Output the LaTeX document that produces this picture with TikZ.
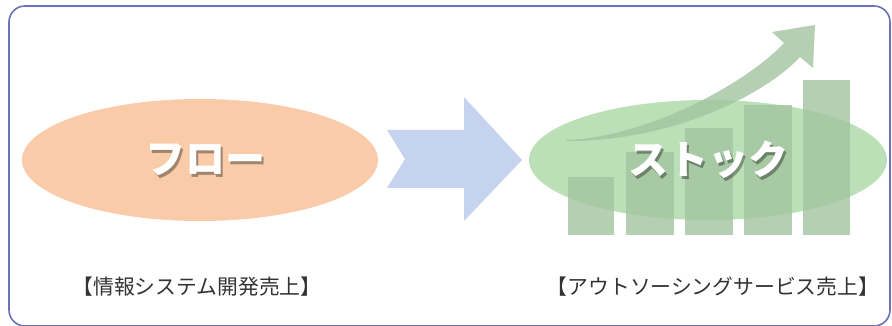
\documentclass[tikz,border=0pt]{standalone}
\usepackage{fontspec}
\newfontfamily\jp{Noto Sans CJK JP}
\usetikzlibrary{shapes.geometric}
\definecolor{frameC}{HTML}{6A72B8}
\definecolor{orangeC}{HTML}{F9CBA8}
\definecolor{blueC}{HTML}{C5D3EE}
\definecolor{greenC}{HTML}{BBE0B7}
\definecolor{barC}{HTML}{A3C5A0}
\definecolor{labelC}{HTML}{333333}
\tikzset{
  blob/.style={ellipse, draw=none, inner sep=0pt},
  bar/.style={fill=barC, fill opacity=0.82, draw=none},
  bigtext/.style={text=white, font=\jp\bfseries\fontsize{40}{42}\selectfont, inner sep=0pt},
  shadowtext/.style={text=black, text opacity=0.35, font=\jp\bfseries\fontsize{40}{42}\selectfont, inner sep=0pt},
  label/.style={text=labelC, font=\jp\fontsize{20.8}{22}\selectfont, inner sep=0pt}
}
\begin{document}
\begin{tikzpicture}[x=1pt,y=-1pt]
\useasboundingbox (0,0) rectangle (892,326);
\begin{scope}
\clip (0,0) rectangle (892,326);
\draw[frameC, line width=1.6pt, rounded corners=16pt] (9,6) rectangle (890,326);
\end{scope}
% flow ellipse
\node[blob, fill=orangeC, minimum width=356pt, minimum height=122pt] (flow) at (200,160) {};
% big arrow
\fill[blueC] (387,130) -- (464,130) -- (464,97) -- (522,160) -- (464,221) -- (464,188) -- (387,188) -- (405,159) -- cycle;
% stock ellipse
\node[blob, fill=greenC, minimum width=358pt, minimum height=120pt] (stock) at (708,160) {};
% bars
\fill[bar] (568,177) rectangle (614,235);
\fill[bar] (626,152) rectangle (674,235);
\fill[bar] (685,128) rectangle (733,235);
\fill[bar] (744,105) rectangle (792,235);
\fill[bar] (803,80) rectangle (850,235);
% curved arrow
\fill[bar] (566,140) .. controls (650,137) and (749,81) .. (784,43)
  -- (772,32) -- (815,25) -- (813,68) -- (800,57)
  .. controls (765,95) and (670,142) .. (566,141) -- cycle;
% texts (drop shadow behind)
\node[shadowtext] (flows) at (207.5,162.5) {フロー};
\node[shadowtext] (stocks) at (710.5,162.5) {ストック};
\node[bigtext] (flowt) at (205,160) {フロー};
\node[bigtext] (stockt) at (708,160) {ストック};
\node[label] (l1) at (197,287) {【情報システム開発売上】};
\node[label] (l2) at (713,287) {【アウトソーシングサービス売上】};
\end{tikzpicture}
\end{document}
